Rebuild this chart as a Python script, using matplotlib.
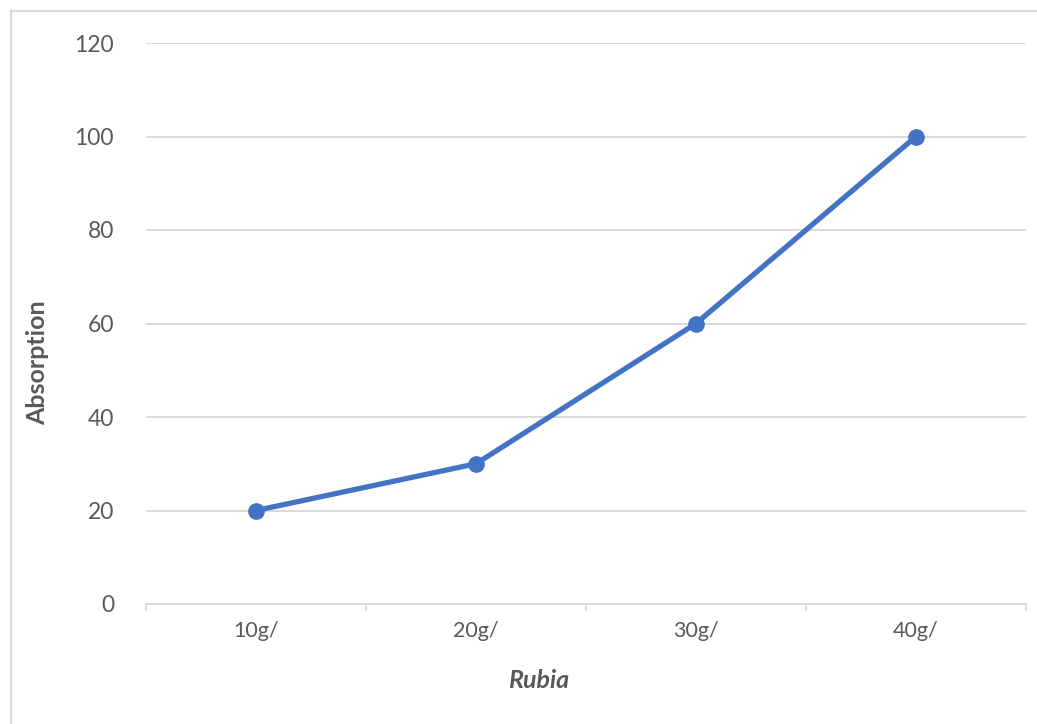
import numpy as np
import matplotlib.pyplot as plt
from matplotlib.lines import Line2D

# Absorption measured for each amount of Rubia
categories = ['10g/', '20g/', '30g/', '40g/']
absorption = [20, 30, 60, 100]
y_ticks = [0, 20, 40, 60, 80, 100, 120]

plt.rcParams['font.family'] = ['Lato', 'DejaVu Sans']
text_color = '#595959'
grid_color = '#D9D9D9'

W, H = 1037, 724
fig = plt.figure(figsize=(W / 100, H / 100), dpi=100)
ax = fig.add_axes([146 / W, 1 - 604 / H, (1026 - 146) / W, (604 - 43) / H])

x = np.arange(len(categories))
ax.plot(x, absorption, color='#4472C4', linewidth=3.8, marker='o',
        markersize=11, solid_capstyle='round', zorder=3)

ax.set_xlim(-0.5, len(categories) - 0.5)
ax.set_ylim(0, 120)
ax.set_yticks(y_ticks)
ax.set_xticks(x)
ax.set_xticklabels(categories)
ax.set_xticks(np.arange(len(categories) + 1) - 0.5, minor=True)

ax.grid(axis='y', color=grid_color, linewidth=1.4, zorder=0)
for side in ['top', 'right', 'left']:
    ax.spines[side].set_visible(False)
ax.spines['bottom'].set_color(grid_color)
ax.spines['bottom'].set_linewidth(1.4)

ax.tick_params(axis='y', length=0, pad=23, labelsize=16.5, labelcolor=text_color)
ax.tick_params(axis='x', which='major', length=0, pad=12, labelsize=15.5,
               labelcolor=text_color)
ax.tick_params(axis='x', which='minor', length=5, width=1.4, color=grid_color)

fig.text(38 / W, 1 - 363 / H, 'Absorption', rotation=90, ha='center', va='center',
         fontsize=18, fontweight='bold', color=text_color)
fig.text(539 / W, 1 - 681 / H, 'Rubia', ha='center', va='center',
         fontsize=18, fontweight='bold', style='italic', color=text_color)

# chart frame (left and top edges visible)
fig.add_artist(Line2D([10.5 / W, 10.5 / W], [0, 1 - 11 / H], transform=fig.transFigure,
                      color=grid_color, linewidth=1.6))
fig.add_artist(Line2D([10.5 / W, 1], [1 - 11 / H, 1 - 11 / H], transform=fig.transFigure,
                      color=grid_color, linewidth=1.6))

fig.savefig('out.png', dpi=100)
